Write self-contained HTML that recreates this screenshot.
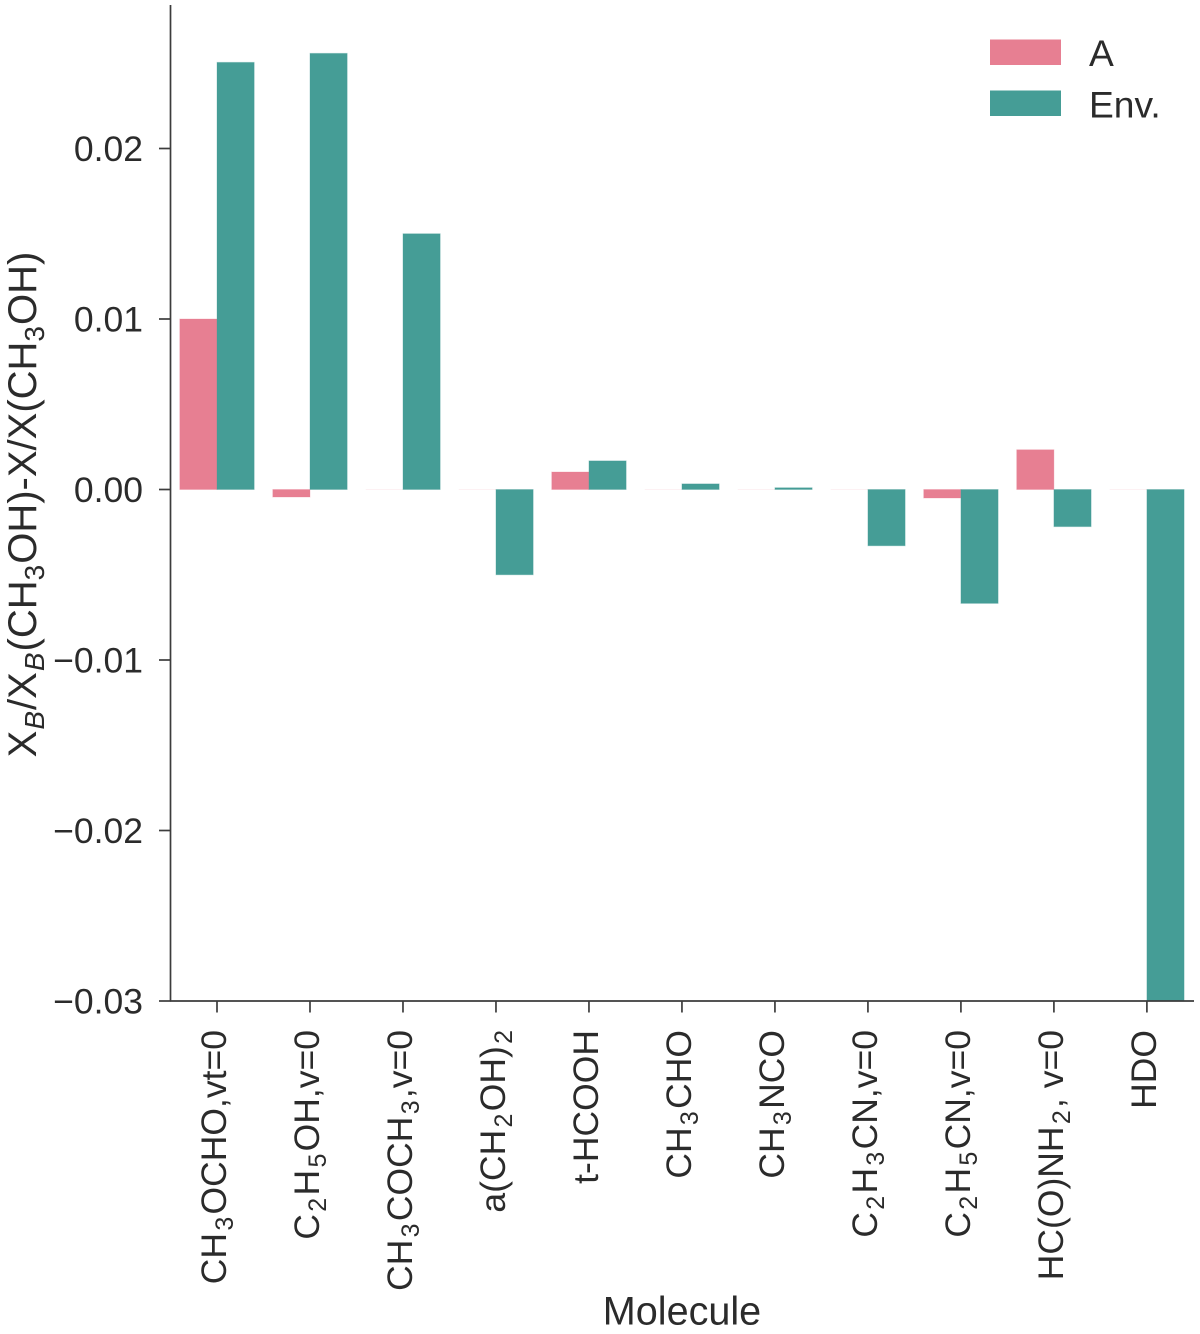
<!DOCTYPE html>
<html lang="en">
<head>
<meta charset="utf-8">
<title>Molecule abundance differences</title>
<style>
html,body{margin:0;padding:0;background:#fff;}
svg{display:block;}
text{font-family:"Liberation Sans",Arial,sans-serif;font-size:35.5px;fill:#2b2b2b;}
</style>
</head>
<body>
<svg id="chart" xmlns="http://www.w3.org/2000/svg" width="1200" height="1334" viewBox="0 0 1200 1334">
  <g id="bars"></g>
  <g id="axes"></g>
  <text x="682" y="1324.5" text-anchor="middle" style="font-size:39.6px">Molecule</text>
  <text transform="translate(36 504.5) rotate(-90)" text-anchor="middle" style="font-size:40px">X<tspan dy="8" dx="1" font-size="28" font-style="italic">B</tspan><tspan dy="-8" dx="1">/X</tspan><tspan dy="8" dx="1" font-size="28" font-style="italic">B</tspan><tspan dy="-8" dx="1">(CH</tspan><tspan dy="8" font-size="28">3</tspan><tspan dy="-8" dx="1">OH)-X/X(CH</tspan><tspan dy="8" font-size="28">3</tspan><tspan dy="-8" dx="1">OH)</tspan></text>
  <g>
    <rect x="990" y="39.5" width="71" height="25.5" fill="#e77f92"/>
    <text x="1089" y="66" style="font-size:37.2px">A</text>
    <rect x="990" y="90.5" width="71" height="25.5" fill="#459d96"/>
    <text x="1089" y="117.5" style="font-size:37.2px">Env.</text>
  </g>
</svg>
<script>
const categories = ["CH_3OCHO,vt=0","C_2H_5OH,v=0","CH_3COCH_3,v=0","a(CH_2OH)_2","t-HCOOH","CH_3CHO","CH_3NCO","C_2H_3CN,v=0","C_2H_5CN,v=0","HC(O)NH_2, v=0","HDO"];
const seriesA = [0.01,-0.00044,0,0,0.00103,0,0,0,-0.0005,0.00233,0];
const seriesEnv = [0.02505,0.02558,0.015,-0.005,0.00168,0.00033,0.0001,-0.0033,-0.00668,-0.00218,-0.03];
const yTickValues = [-0.03,-0.02,-0.01,0,0.01,0.02];
const yTickLabels = ["\u22120.03","\u22120.02","\u22120.01","0.00","0.01","0.02"];

const NS = "http://www.w3.org/2000/svg";
const xScale = function (i) { return 217 + 92.99 * i; };
const yScale = function (v) { return 489.5 - v * 17050; };
const barWidth = 37.2;

function make(tag, parent, attrs) {
  const el = document.createElementNS(NS, tag);
  for (const k in attrs) { el.setAttribute(k, attrs[k]); }
  parent.appendChild(el);
  return el;
}

const barsG = document.getElementById("bars");
const axesG = document.getElementById("axes");

function drawBar(i, value, left, color, name) {
  const x0 = left ? xScale(i) - barWidth : xScale(i);
  const x1 = x0 + barWidth;
  const y0 = yScale(0);
  const y1 = yScale(value);
  const bar = make("path", barsG, {
    d: "M" + x0 + " " + y0 + "H" + x1 + "V" + y1 + "H" + x0 + "Z",
    fill: color,
    stroke: value === 0 ? "#fdf1f3" : color,
    "stroke-opacity": value === 0 ? 1 : 0.3,
    "stroke-width": 1
  });
  
  
}

categories.forEach(function (c, i) {
  drawBar(i, seriesA[i], true, "#e77f92", "bar-a-" + i);
});
categories.forEach(function (c, i) {
  drawBar(i, seriesEnv[i], false, "#459d96", "bar-env-" + i);
});

const axisStyle = { stroke: "#3c3c3c", "stroke-width": 1.7, fill: "none" };

const yAxisLine = make("line", axesG, Object.assign({ x1: 170.5, x2: 170.5, y1: 5, y2: yScale(-0.03) }, axisStyle));



const xAxisLine = make("line", axesG, Object.assign({ x1: 170, x2: 1194, y1: yScale(-0.03), y2: yScale(-0.03) }, axisStyle));



yTickValues.forEach(function (v, i) {
  const y = yScale(v);
  const tick = make("line", axesG, Object.assign({ x1: 159, x2: 170.5, y1: y, y2: y }, axisStyle));
  
  
  const label = make("text", axesG, { x: 143, y: y + 12.5, "text-anchor": "end" });
  label.textContent = yTickLabels[i];
  
  
});

categories.forEach(function (c, i) {
  const x = xScale(i);
  const tick = make("line", axesG, Object.assign({ x1: x, x2: x, y1: yScale(-0.03), y2: yScale(-0.03) + 11.5 }, axisStyle));
  
  
  const label = make("text", axesG, {
    "text-anchor": "end",
    transform: "translate(" + (x + 9.2) + " 1030) rotate(-90)"
  });
  
  
  const parts = c.split(/_(\d)/);
  let shift = 0;
  parts.forEach(function (part, p) {
    if (part === "") { return; }
    const isSub = p % 2 === 1;
    const span = make("tspan", label, {});
    const target = isSub ? 7 : 0;
    if (target !== shift) { span.setAttribute("dy", target - shift); shift = target; }
    if (isSub) { span.setAttribute("font-size", "25"); }
    if (p > 0) { span.setAttribute("dx", "2.3"); }
    span.textContent = part;
  });
});
</script>
</body>
</html>
